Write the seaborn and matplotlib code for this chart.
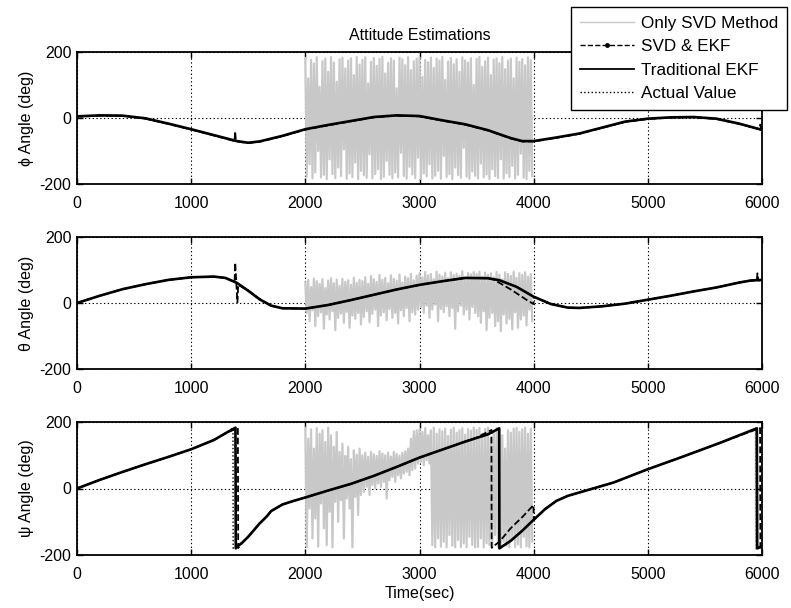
import numpy as np
import pandas as pd
import matplotlib
matplotlib.use("Agg")
import matplotlib.pyplot as plt
from matplotlib.lines import Line2D
import seaborn as sns

# ---------------- roll (phi) ----------------
phi_t = [0, 200, 400, 600, 800, 1000, 1200, 1400, 1500, 1600, 1800, 2000, 2200, 2400, 2600, 2800,
         3000, 3200, 3400, 3600, 3800, 3900, 4000, 4200, 4400, 4600, 4800, 5000, 5200, 5400, 5600,
         5800, 6000]
phi_actual = [4, 7, 7, -2, -18, -35, -53, -71, -76, -72, -55, -35, -22, -10, 2, 7,
              5, -8, -20, -38, -62, -71, -71, -60, -48, -30, -12, -3, 1, 2, -3,
              -18, -37]
phi_ekf = [5, 8, 7, -1, -17, -34, -52, -70, -75, -71, -54, -34, -21, -9, 3, 8,
           6, -7, -19, -37, -61, -70, -70, -59, -47, -29, -11, -2, 2, 3, -2,
           -17, -36]
phi_svdekf_t = [0, 200, 400, 600, 800, 1000, 1200, 1380, 1385, 1392, 1400, 1500, 1600, 1800, 2000,
                2200, 2400, 2600, 2800, 3000, 3200, 3400, 3600, 3800, 3900, 4000, 4200, 4400, 4600,
                4800, 5000, 5200, 5400, 5600, 5800, 5980, 5985, 5992, 6000]
phi_svdekf = [4, 7, 7, -2, -18, -35, -53, -70, -40, -70, -71, -76, -72, -55, -35,
              -22, -10, 2, 7, 5, -8, -20, -38, -62, -71, -71, -60, -48, -30,
              -12, -3, 1, 2, -3, -18, -34, -20, -35, -37]
# SVD-only estimate between 2000 s and 4000 s: alternating peaks and troughs
phi_svd_hi = [182, 120, 176, 165, 184, 95, 172, 180, 140, 185, 168, 110, 178, 183, 150, 174, 181, 130, 185, 162,
              176, 184, 105, 170, 182, 158, 179, 185, 135, 167, 181, 174, 90, 183, 178, 160, 185, 145, 172, 180,
              184, 125, 176, 169, 183, 152, 180, 174, 185, 115, 171, 182, 163, 178, 140, 184, 175, 168, 181, 100,
              179, 185, 155, 172, 183, 130, 177, 181, 166, 185, 148, 174, 180, 120, 183, 170, 178, 160, 184, 175]
phi_svd_lo = [-178, -140, -183, -165, -100, -180, -172, -185, -125, -170, -182, -150, -176, -95, -184, -168, -179, -135, -185, -160,
              -174, -181, -110, -183, -170, -155, -185, -178, -130, -172, -183, -165, -180, -105, -176, -184, -148, -171, -182, -120,
              -185, -168, -177, -140, -183, -175, -160, -184, -115, -179, -170, -185, -150, -173, -181, -90, -178, -184, -162, -175,
              -183, -138, -180, -171, -185, -155, -176, -182, -125, -184, -167, -179, -145, -183, -172, -108, -181, -185, -160, -176]

# ---------------- pitch (theta) ----------------
theta_t = [0, 200, 400, 600, 800, 1000, 1200, 1300, 1400, 1500, 1600, 1700, 1800, 2000, 2200,
           2400, 2600, 2800, 3000, 3200, 3400, 3600, 3700, 3850, 4000, 4150, 4300, 4400, 4600,
           4800, 5000, 5200, 5400, 5600, 5800, 5900, 6000]
theta_actual = [0, 22, 42, 57, 70, 78, 80, 76, 62, 38, 12, -8, -16, -17, -6,
                9, 25, 41, 55, 66, 76, 75, 69, 49, 19, -3, -14, -15, -10,
                -2, 10, 22, 35, 47, 62, 68, 70]
theta_ekf = [0, 22, 42, 57, 70, 78, 80, 76, 61, 37, 11, -8, -16, -17, -6,
             9, 25, 41, 55, 66, 76, 75, 69, 49, 19, -3, -14, -15, -10,
             -2, 10, 22, 35, 47, 62, 68, 70]
theta_svdekf_t = [0, 200, 400, 600, 800, 1000, 1200, 1300, 1380, 1386, 1396, 1405, 1412, 1500, 1600,
                  1700, 1800, 2000, 2200, 2400, 2600, 2800, 3000, 3200, 3400, 3600, 3650, 3800, 3940,
                  3998, 4002, 4150, 4300, 4400, 4600, 4800, 5000, 5200, 5400, 5600, 5800, 5900,
                  5955, 5960, 5968, 6000]
theta_svdekf = [0, 22, 42, 57, 70, 78, 80, 76, 64, 122, 58, 2, 55, 38, 12,
                -8, -16, -17, -6, 9, 25, 41, 55, 66, 76, 75, 71, 41, 9,
                -3, 19, -3, -14, -15, -10, -2, 10, 22, 35, 47, 62, 68,
                69, 90, 68, 70]
theta_svd_hi = [62, 70, 48, 74, 66, 58, 72, 45, 68, 75, 60, 71, 52, 73, 64, 69, 55, 76, 61, 70,
                66, 78, 58, 82, 72, 64, 85, 70, 76, 60, 84, 73, 68, 86, 62, 80, 75, 88, 69, 83,
                90, 78, 94, 84, 88, 72, 95, 86, 80, 92, 76, 93, 85, 89, 82, 96, 74, 91, 87, 94,
                88, 95, 80, 92, 85, 90, 78, 94, 86, 72, 93, 88, 82, 95, 76, 90, 85, 93, 80, 88]
theta_svd_lo = [-30, -55, -22, -70, -40, -28, -78, -35, -50, -25, -82, -45, -32, -60, -27, -75, -38, -48, -30, -65,
                -42, -25, -58, -33, -20, -70, -38, -28, -52, -18, -45, -30, -62, -22, -40, -15, -55, -28, -35, -20,
                -12, -30, -8, -45, -20, -5, -55, -18, -28, -10, -40, -15, -78, -25, -8, -35, -20, -50, -12, -30,
                -40, -60, -25, -82, -45, -30, -70, -55, -85, -35, -62, -48, -80, -28, -75, -50, -38, -68, -20, -55]

# ---------------- yaw (psi) ----------------
psi_actual_t = [0, 200, 400, 600, 800, 1000, 1200, 1300, 1366, 1368, 1400, 1450, 1500, 1545, 1600,
                1662, 1700, 1800, 1900, 2000, 2200, 2400, 2600, 2800, 3000, 3200, 3400, 3600, 3698, 3700,
                3800, 3900, 4000, 4100, 4200, 4300, 4500, 4700, 5000, 5300, 5630, 5950, 5952, 6000]
psi_actual = [0, 26, 50, 73, 95, 118, 146, 166, 182, -180, -176, -162, -145, -127, -105,
              -84, -68, -48, -37, -27, -6, 14, 38, 65, 93, 117, 141, 163, 181, -180,
              -157, -127, -94, -62, -37, -22, -2, 18, 58, 95, 137, 181, -180, -175]
psi_ekf_t = [0, 200, 400, 600, 800, 1000, 1200, 1300, 1388, 1391, 1400, 1450, 1500, 1545, 1600,
             1662, 1700, 1800, 1900, 2000, 2200, 2400, 2600, 2800, 3000, 3200, 3400, 3600, 3698, 3700,
             3800, 3900, 4000, 4100, 4200, 4300, 4500, 4700, 5000, 5300, 5630, 5955, 5958, 6000]
psi_ekf = [0, 26, 50, 73, 95, 118, 146, 166, 183, -180, -176, -162, -145, -127, -105,
           -84, -68, -48, -37, -27, -6, 14, 38, 65, 93, 117, 141, 163, 181, -180,
           -157, -127, -94, -62, -37, -22, -2, 18, 58, 95, 137, 181, -180, -174]
psi_svdekf_t = [0, 200, 400, 600, 800, 1000, 1200, 1300, 1409, 1412, 1450, 1500, 1545, 1600,
                1662, 1700, 1800, 1900, 2000, 2200, 2400, 2600, 2800, 3000, 3200, 3400, 3500, 3630,
                3632, 3700, 3800, 3900, 3998, 4002, 4100, 4200, 4300, 4500, 4700, 5000, 5300,
                5630, 5983, 5986, 6000]
psi_svdekf = [0, 26, 50, 73, 95, 118, 146, 166, 182, -179, -162, -145, -127, -105,
              -84, -68, -48, -37, -27, -6, 14, 38, 65, 93, 117, 141, 153, 176,
              -178, -160, -119, -86, -50, -94, -62, -37, -22, -2, 18, 58, 95,
              137, 182, -178, -175]
psi_svd_hi = [183, 150, 178, 120, 182, 165, 175, 140, 183, 160, 125, 170,
              110, 135, 98, 125, 88, 115, 102, 120,
              100, 108, 95, 110, 103, 98, 112, 105, 100, 108, 96, 110, 104, 99, 107, 112, 120, 150,
              172, 175,
              178, 170, 182, 160, 175, 183, 165, 178, 172, 180, 158, 177, 183, 168, 175, 181, 162, 179, 174, 183,
              176, 182, 165, 179, 183, 150, 172, 181, 178, 160, 120, 175, 168, 180, 182, 170, 178, 183, 165, 180]
psi_svd_lo = [-177, -60, -150, -90, -175, -45, -120, -170, -70, -177, -40, -100,
              -35, -150, -30, -60, -177, -25, -80, -20,
              -10, 5, -20, 10, 0, 15, 5, 20, -30, 25, 35, 20, 40, 30, 45, 50, 40, 55,
              60, 75,
              80, 70, 85, 75, -170, -177, -150, -175, -160, -177, -140, -172, -177, -155, -176, -165, -177, -145, -170, -177,
              -176, -150, -177, -165, -170, -177, -140, -175, -177, -160, -172, -177, -155, -176, -168, -177, -145, -174, -177, -160]
psi_svd_tail_t = [5900, 5945, 5947, 6000]
psi_svd_tail = [170, 181, -181, -176]

GRAY = "#c8c8c8"
FONT = ["Liberation Sans", "DejaVu Sans"]
plt.rcParams["font.family"] = FONT
plt.rcParams["font.size"] = 11.5
plt.rcParams["axes.unicode_minus"] = False


def svd_series(hi, lo, start=2000.0, step=25.0):
    """Interleave the peak and trough samples on their time stamps."""
    n = len(hi)
    t_hi = start + step * np.arange(n)
    t = np.column_stack([t_hi, t_hi + step / 2]).ravel()
    v = np.column_stack([hi, lo]).ravel()
    return pd.DataFrame({"t": t, "v": v})


def draw(ax, t, v, **kw):
    df = pd.DataFrame({"t": t, "v": v})
    sns.lineplot(data=df, x="t", y="v", ax=ax, estimator=None, sort=False, **kw)


fig = plt.figure(figsize=(7.91, 6.08), dpi=100)
left, width = 77 / 791, 685 / 791
boxes = [(1 - 184 / 608, 132 / 608), (1 - 369 / 608, 132 / 608), (1 - 555 / 608, 133 / 608)]
axes = [fig.add_axes([left, b, width, h]) for b, h in boxes]

panels = [
    (phi_svd_hi, phi_svd_lo, phi_t, phi_actual, phi_t, phi_ekf, phi_svdekf_t, phi_svdekf, "ϕ Angle (deg)"),
    (theta_svd_hi, theta_svd_lo, theta_t, theta_actual, theta_t, theta_ekf, theta_svdekf_t, theta_svdekf, "θ Angle (deg)"),
    (psi_svd_hi, psi_svd_lo, psi_actual_t, psi_actual, psi_ekf_t, psi_ekf, psi_svdekf_t, psi_svdekf, "ψ Angle (deg)"),
]

for ax, (hi, lo, ta, va, te, ve, ts, vs, ylab) in zip(axes, panels):
    ax.set_axisbelow(True)
    svd = svd_series(hi, lo)
    sns.lineplot(data=svd, x="t", y="v", ax=ax, estimator=None, sort=False, color=GRAY, lw=1.6)
    draw(ax, ta, va, color="black", lw=1.0, linestyle=":")
    draw(ax, ts, vs, color="black", lw=1.3, linestyle="--")
    draw(ax, te, ve, color="black", lw=1.9)
    ax.set_xlim(0, 6000)
    ax.set_ylim(-200, 200)
    ax.set_xticks(range(0, 6001, 1000))
    ax.set_yticks([-200, 0, 200])
    ax.set_xlabel("")
    ax.set_ylabel(ylab, fontsize=11.5, labelpad=4)
    ax.grid(True, color="black", linestyle=(0, (1.2, 2.2)), lw=0.8)
    ax.tick_params(direction="in", top=True, right=True, length=4, width=1, labelsize=11.5)
    ax.tick_params(axis="x", pad=8.5)
    ax.tick_params(axis="y", pad=4)
    for s in ax.spines.values():
        s.set_linewidth(1.3)
        s.set_color("black")

draw(axes[2], psi_svd_tail_t, psi_svd_tail, color=GRAY, lw=1.5)
# keep the tail underneath the black estimates
axes[2].lines[-1].set_zorder(1)

axes[0].set_title("Attitude Estimations", fontsize=11.5, pad=9)
axes[2].set_xlabel("Time(sec)", fontsize=11.5, labelpad=3)

handles = [
    Line2D([], [], color=GRAY, lw=1.0),
    Line2D([], [], color="black", lw=1.0, linestyle="--", marker=".", markersize=5),
    Line2D([], [], color="black", lw=1.3),
    Line2D([], [], color="black", lw=1.0, linestyle=":"),
]
labels = ["Only SVD Method", "SVD & EKF", "Traditional EKF", "Actual Value"]
leg = fig.legend(handles, labels, loc="upper right", bbox_to_anchor=(787 / 791, 1 - 7 / 608),
                 frameon=True, fancybox=False, framealpha=1, edgecolor="black",
                 fontsize=12.3, handlelength=3.2, handletextpad=0.4, labelspacing=0.5,
                 borderpad=0.5, borderaxespad=0)
leg.get_frame().set_linewidth(1.0)

fig.savefig("out.png", dpi=100)
